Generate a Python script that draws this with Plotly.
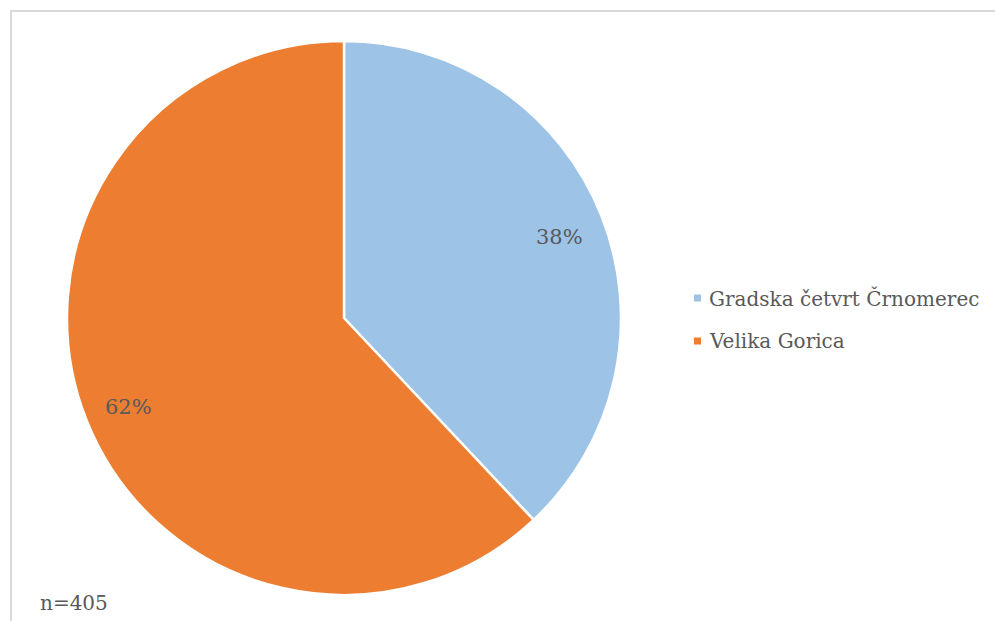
import math
import plotly.graph_objects as go

# Share of respondents by area (n=405)
categories = ["Gradska četvrt Črnomerec", "Velika Gorica"]
shares = [38, 62]
colors = ["#9DC3E6", "#ED7D31"]
sample_note = "n=405"

W, H = 995, 621
FONT = "DejaVu Serif"
TXT = "#595959"
FS = 20

# Pie placement in paper coordinates
cx, cy, r = 344, 318, 277
dom_x = [(cx - r) / W, (cx + r) / W]
dom_y = [(H - cy - r) / H, (H - cy + r) / H]

fig = go.Figure(
    go.Pie(
        labels=categories,
        values=shares,
        sort=False,
        direction="clockwise",
        rotation=0,
        marker=dict(colors=colors, line=dict(color="white", width=2.5)),
        textinfo="none",
        hoverinfo="label+percent",
        showlegend=False,
        domain=dict(x=dom_x, y=dom_y),
    )
)

annotations = []
shapes = []

# Percentage labels placed at each slice's mid-angle
total = sum(shares)
start = 0.0
for v in shares:
    frac = v / total
    mid = (start + frac / 2) * 2 * math.pi
    start += frac
    px = cx + 0.835 * r * math.sin(mid)
    py = cy - 0.835 * r * math.cos(mid) + 4
    annotations.append(dict(
        x=px / W, y=1 - py / H, xref="paper", yref="paper",
        text=f"{round(frac * 100)}%", showarrow=False,
        font=dict(family=FONT, size=21, color=TXT),
        xanchor="center", yanchor="middle",
    ))

# Legend: colour square + label for each category
leg_x, leg_y0, leg_dy = 707, 298, 43
for i, (name, col) in enumerate(zip(categories, colors)):
    y = leg_y0 + i * leg_dy
    shapes.append(dict(
        type="rect", xref="paper", yref="paper",
        x0=(leg_x - 13) / W, x1=(leg_x - 6) / W,
        y0=1 - (y + 3.5) / H, y1=1 - (y - 3.5) / H,
        fillcolor=col, line=dict(width=0),
    ))
    annotations.append(dict(
        x=leg_x / W, y=1 - y / H, xref="paper", yref="paper",
        text=name, showarrow=False,
        font=dict(family=FONT, size=FS, color=TXT),
        xanchor="left", yanchor="middle",
    ))

# Sample size note
annotations.append(dict(
    x=38 / W, y=1 - 603 / H, xref="paper", yref="paper",
    text=sample_note, showarrow=False,
    font=dict(family=FONT, size=FS, color=TXT),
    xanchor="left", yanchor="middle",
))

# Chart frame
shapes.append(dict(
    type="rect", xref="paper", yref="paper",
    x0=11 / W, x1=1.02, y0=-0.02, y1=1 - 11 / H,
    line=dict(color="#D9D9D9", width=2), fillcolor="rgba(0,0,0,0)",
))

fig.update_layout(
    width=W, height=H,
    margin=dict(l=0, r=0, t=0, b=0),
    paper_bgcolor="white",
    plot_bgcolor="white",
    annotations=annotations,
    shapes=shapes,
)

fig.write_html("out.html")
